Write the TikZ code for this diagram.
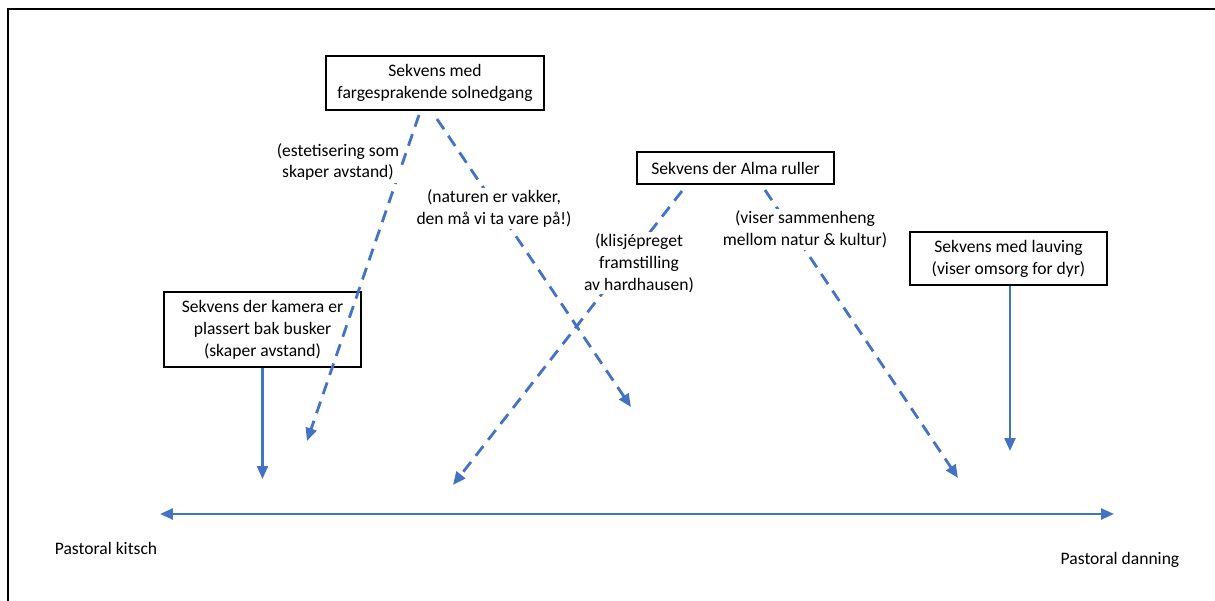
\documentclass[tikz,border=0pt]{standalone}
\usepackage{fontspec}
\setmainfont{Carlito}
\usetikzlibrary{arrows.meta, positioning}
\definecolor{pilblue}{HTML}{4472C4}

\begin{document}
\begin{tikzpicture}[x=0.02cm, y=-0.02cm,
  seqbox/.style={rectangle, draw=black, line width=0.8pt, minimum width=3.94cm,
    text centered, align=center, fill=white, inner sep=2pt,
    font=\fontsize{10}{12.5}\selectfont},
  note/.style={align=center, fill=white, inner sep=1pt, font=\fontsize{10}{12.5}\selectfont},
  endlabel/.style={font=\fontsize{10}{12.5}\selectfont},
  solidarrow/.style={-{Triangle[length=2.6mm, width=2.2mm]}, pilblue, line width=1.3pt},
  dasharrow/.style={-{Triangle[length=2.6mm, width=2.2mm]}, pilblue, line width=1.6pt,
    dash pattern=on 7pt off 4.5pt},
  axisarrow/.style={{Triangle[length=2.6mm, width=2.2mm]}-{Triangle[length=2.6mm, width=2.2mm]},
    pilblue, line width=1.4pt}
]
\useasboundingbox (0,0) rectangle (1215,601);

% ramme
\draw [line width=1.1pt] (8,601) -- (8,9) -- (1215,9);

% sekvenser
\node (sol) [seqbox, minimum width=4.36cm, minimum height=1.08cm] at (435,83)
  {Sekvens med\\fargesprakende solnedgang};
\node (alma) [seqbox, minimum height=0.64cm] at (735.5,168) {Sekvens der Alma ruller};
\node (lauv) [seqbox, minimum height=1.06cm] at (1008.5,258.5)
  {Sekvens med lauving\\(viser omsorg for dyr)};
\node (kamera) [seqbox, minimum height=1.5cm] at (262.5,329.5)
  {Sekvens der kamera er\\plassert bak busker\\(skaper avstand)};

% endepunkter
\coordinate (solL) at (419,115);
\coordinate (solR) at (437,119);
\coordinate (almaL) at (682,191);
\coordinate (almaR) at (765,190);
\coordinate (tipA) at (307,441);
\coordinate (tipB) at (631,407);
\coordinate (tipC) at (453,485);
\coordinate (tipD) at (958,478);
\coordinate (tipE) at (262.5,479);
\coordinate (tipF) at (1010,451);
\coordinate (axisL) at (160,514);
\coordinate (axisR) at (1114,514);

% piler
\draw [dasharrow] (solL) -- (tipA);
\draw [dasharrow] (solR) -- (tipB);
\draw [dasharrow] (almaL) -- (tipC);
\draw [dasharrow] (almaR) -- (tipD);
\draw [solidarrow] (kamera.south) -- (tipE);
\draw [solidarrow] (lauv.south -| tipF) -- (tipF);
\draw [axisarrow] (axisL) -- (axisR);

% kommentarer
\node (noteA) [note] at (338,162) {(estetisering som\\skaper avstand)};
\node (noteB) [note] at (494,208.5) {(naturen er vakker,\\den må vi ta vare på!)};
\node (noteC) [note] at (639,263) {(klisjépreget\\framstilling\\av hardhausen)};
\node (noteD) [note] at (805,229.5) {(viser sammenheng\\mellom natur \& kultur)};

% ytterpunkter
\node (kitsch) [endlabel] at (106,548) {Pastoral kitsch};
\node (danning) [endlabel] at (1120,560) {Pastoral danning};

\end{tikzpicture}
\end{document}
